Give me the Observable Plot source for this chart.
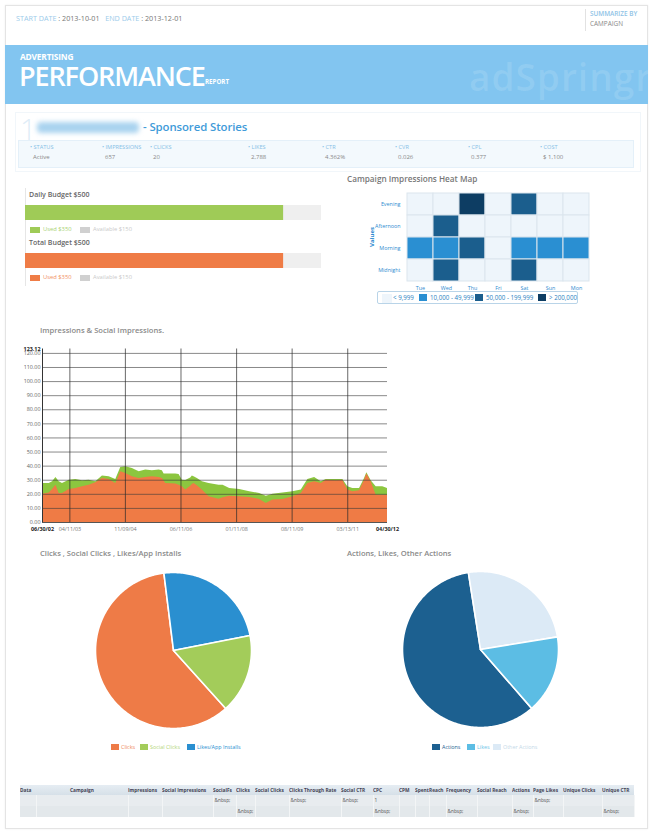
<!DOCTYPE html>
<html><head><meta charset="utf-8">
<script src="https://cdn.jsdelivr.net/npm/d3@7"></script>
<script src="https://cdn.jsdelivr.net/npm/@observablehq/plot@0.6"></script>
<style>
body{margin:0;background:#fff;font-family:"Open Sans",sans-serif;}
#page{position:relative;width:654px;height:831px;overflow:hidden;background:#fff;}
.a{position:absolute;white-space:nowrap;line-height:1;}
.lb{color:#9ccbea;}
svg{overflow:visible;}
table{border-collapse:collapse;table-layout:fixed;}
</style></head><body><div id="page"></div>
<script>
// ---------- data ----------
const startDate = "2013-10-01";
const endDate = "2013-12-01";
const summarizeBy = "CAMPAIGN";
const campaignType = "Sponsored Stories";
const statLabels = ["STATUS","IMPRESSIONS","CLICKS","LIKES","CTR","CVR","CPL","COST"];
const statValues = ["Active","657","20","2,788","4.362%","0.026","0.377","$ 1,100"];

const budgetTitles = ["Daily Budget $500","Total Budget $500"];
const budgetTotal = [500, 500];
const budgetUsedDrawn = [436, 436];       // bar length as drawn in the picture
const budgetUsedLabel = ["Used $350","Used $350"];
const budgetAvailLabel = ["Available $150","Available $150"];

const heatDays = ["Tue","Wed","Thu","Fri","Sat","Sun","Mon"];
const heatPeriods = ["Evening","Afternoon","Morning","Midnight"];
const heatValues = [
  [3000,   6000,   260000, 6000,  120000, 6000,  3000],
  [6000,   120000, 6000,   6000,  6000,   6000,  6000],
  [30000,  35000,  120000, 6000,  30000,  30000, 30000],
  [6000,   120000, 6000,   6000,  120000, 6000,  6000]
];
const heatThresholds = [10000, 50000, 200000];
const heatLegend = ["< 9,999","10,000 - 49,999","50,000 - 199,999","> 200,000"];

const areaDates = ["2002-06-30","2002-09-08","2002-10-13","2002-11-17","2002-12-21","2003-01-24","2003-04-04","2003-06-12","2003-08-20","2003-10-29",
 "2004-01-06","2004-03-15","2004-05-24","2004-08-01","2004-09-22","2004-11-13","2005-01-21","2005-04-01","2005-06-09","2005-08-17",
 "2005-10-26","2005-11-29","2005-12-17","2006-01-03","2006-04-17","2006-05-22","2006-06-25","2006-07-30","2006-09-20","2006-10-07",
 "2006-10-25","2006-11-28","2007-01-19","2007-03-30","2007-07-12","2007-08-23","2007-10-31","2008-02-12","2008-05-26","2008-09-07",
 "2008-11-15","2009-01-23","2009-05-07","2009-08-19","2009-11-14","2010-01-22","2010-04-02","2010-06-10","2010-08-01","2010-11-13",
 "2011-01-21","2011-03-14","2011-05-05","2011-07-14","2011-09-04","2011-09-28","2011-11-12","2012-01-03","2012-03-12","2012-04-30"];
const impressions = [27.7,27.7,28.9,32.0,28.9,27.7,30.0,30.6,29.6,30.0,
 28.9,33.0,32.5,30.6,39.0,39.6,38.4,36.0,37.2,36.7,
 37.2,36.7,34.4,34.4,34.4,34.1,30.0,29.8,31.5,33.0,
 32.5,31.3,28.9,27.7,26.5,26.5,24.2,23.5,21.8,20.6,
 18.7,20.1,21.0,21.8,23.0,30.6,32.0,28.9,30.6,30.6,
 30.6,25.4,24.2,24.2,31.3,35.3,29.6,25.4,25.4,24.2];
const socialImpressions = [20.1,21.0,23.5,26.5,20.6,20.6,23.5,24.2,25.4,26.5,
 28.2,31.3,30.6,27.7,36.0,34.8,32.5,31.3,32.0,32.5,
 32.0,31.3,29.5,27.7,27.3,26.5,25.4,23.0,25.8,27.0,
 27.7,26.0,23.0,18.2,16.5,17.5,18.7,18.2,17.8,16.4,
 13.5,15.9,16.4,18.2,20.6,27.7,28.9,27.7,30.0,29.6,
 30.0,23.0,21.8,22.5,30.0,34.4,28.9,19.4,19.4,19.4];
const xTickDates = ["2002-06-30","2003-04-11","2004-11-09","2006-06-11","2008-01-11","2009-08-11","2011-03-13","2012-04-30"];
const yTicks = [0,10,20,30,40,50,60,70,80,90,100,110,120];
const yMax = 123.12;

const pie1Labels = ["Clicks","Social Clicks","Likes/App Installs"];
const pie1Values = [59.7, 16.4, 23.9];
const pie2Labels = ["Actions","Likes","Other Actions"];
const pie2Values = [58.9, 16.2, 24.9];

const tableHeaders = ["Data","Campaign","Impressions","Social Impressions","SocialFs","Clicks","Social Clicks","Clicks Through Rate","Social CTR","CPC","CPM","Spent","Reach","Frequency","Social Reach","Actions","Page Likes","Unique Clicks","Unique CTR"];
const tableRow1 = ["","","","","&nbsp;","","","&nbsp;","&nbsp;","1","","","","","","","&nbsp;","",""];
const tableRow2 = ["","","","","","&nbsp;","","","","&nbsp;","","","","&nbsp;","","&nbsp;","","","&nbsp;"];

// ---------- styles / layout ----------
const C = {
  banner:"#82c5f0", green:"#9fcb57", orange:"#ef7c46", track:"#efefef",
  heat:["#eef5fb","#2a8fd2","#1b5e8d","#0d3d63"],
  areaGreen:"#8cc63f", areaOrange:"#ef7b45",
  pie1:["#ee7b47","#a3cc5a","#2a8fd0"], pie2:["#1c6090","#5cbde4","#dceaf6"]
};
const page = document.getElementById("page");
function el(html, style){ const d=document.createElement("div"); d.className="a"; d.innerHTML=html; Object.assign(d.style, style); page.appendChild(d); return d; }
function place(node, left, top){ const d=document.createElement("div"); d.className="a"; d.style.left=left+"px"; d.style.top=top+"px"; d.appendChild(node); page.appendChild(d); return d; }
const esc = s => s.replace(/&/g,"&amp;").replace(/</g,"&lt;").replace(/>/g,"&gt;");

// page frame
el("", {left:"5px",top:"5px",width:"641px",height:"822px",border:"1px solid #e4e4e4",boxShadow:"0 0 2px #eee"});

// header
el(`<span class="lb">START DATE</span> : ${startDate} &nbsp;&nbsp;<span class="lb">END DATE</span> : ${endDate}`, {left:"16px",top:"14.5px",fontSize:"7.2px",color:"#777"});
el("", {left:"585px",top:"9px",width:"1px",height:"22px",background:"#e2e2e2"});
el("SUMMARIZE BY", {left:"590px",top:"11px",fontSize:"6.4px",fontWeight:"600",color:"#8fc3e6"});
el(summarizeBy, {left:"590px",top:"21px",fontSize:"6.4px",color:"#888"});

const banner = el("", {left:"5px",top:"45px",width:"643px",height:"59px",background:C.banner,overflow:"hidden"});
banner.innerHTML = `<div class="a" style="left:464px;top:13px;font-size:37px;letter-spacing:1px;color:rgba(255,255,255,0.13);font-weight:600">adSpringr</div>`;
el("ADVERTISING", {left:"20px",top:"52.5px",fontSize:"8.4px",fontWeight:"700",color:"#fff",letterSpacing:"-0.2px"});
el("PERFORMANCE", {left:"19px",top:"65.2px",fontSize:"27px",lineHeight:"0.8",fontWeight:"600",color:"#fff",letterSpacing:"-1.1px"});
el("REPORT", {left:"205px",top:"79px",fontSize:"6.2px",fontWeight:"700",color:"#fff"});

// sponsored stories block
el("", {left:"15px",top:"112px",width:"624px",height:"58px",border:"1px solid #f1f6fa"});
el("1", {left:"20px",top:"117.6px",fontSize:"29px",lineHeight:"0.75",color:"#dfedf7",fontWeight:"300"});
el("", {left:"37px",top:"122px",width:"102px",height:"11px",background:"#a9d3ef",filter:"blur(2.5px)",borderRadius:"4px"});
el("- " + campaignType, {left:"143px",top:"121px",fontSize:"11.4px",fontWeight:"600",color:"#3f9bd9",letterSpacing:"-0.1px"});
el("", {left:"18px",top:"140px",width:"614px",height:"26px",background:"#f3f9fd",border:"1px solid #e4f0f9"});
const statX = [30,102,150,248,322,395,468,540];
statLabels.forEach((l,i)=>{
  el("• "+l, {left:statX[i]+"px",top:"145px",fontSize:"5.6px",color:"#86c0e6"});
  el(esc(statValues[i]), {left:(statX[i]+3)+"px",top:"154px",fontSize:"6px",color:"#888"});
});

// budget bars
el("", {left:"25px",top:"188px",width:"1px",height:"98px",background:"#e6e6e6"});
const budgetColors=[C.green,C.orange], budgetText=["#a8d273","#f19063"];
const budgetTop=[191,239];
budgetTitles.forEach((t,i)=>{
  const y=budgetTop[i];
  el(esc(t), {left:"29px",top:y+"px",fontSize:"7px",fontWeight:"600",color:"#666"});
  const p = Plot.plot({width:296,height:15,margin:0,x:{domain:[0,budgetTotal[i]],axis:null},
    marks:[Plot.barX([budgetTotal[i]],{x:d=>d,fill:C.track}), Plot.barX([budgetUsedDrawn[i]],{x:d=>d,fill:budgetColors[i]})]});
  place(p, 25, y+14);
  el("", {left:"30px",top:(y+36)+"px",width:"10px",height:"6px",background:budgetColors[i]});
  el(esc(budgetUsedLabel[i]), {left:"43px",top:(y+36)+"px",fontSize:"5.8px",color:budgetText[i]});
  el("", {left:"80px",top:(y+36)+"px",width:"10px",height:"6px",background:"#d0d0d0"});
  el(esc(budgetAvailLabel[i]), {left:"93px",top:(y+36)+"px",fontSize:"5.8px",color:"#cacaca"});
});

// heat map
el("Campaign Impressions Heat Map", {left:"347px",top:"175px",fontSize:"8.2px",fontWeight:"600",color:"#777"});
const heatData = heatPeriods.flatMap((p,r)=>heatDays.map((d,c)=>({day:d,period:p,value:heatValues[r][c]})));
const heat = Plot.plot({
  width:247,height:106,marginLeft:60,marginRight:2,marginTop:2,marginBottom:14,
  style:{fontSize:"5.4px",fontFamily:"Open Sans",color:"#2f8bd0",background:"transparent"},
  x:{domain:heatDays,padding:0,tickSize:0,tickPadding:4,label:null},
  y:{domain:heatPeriods,padding:0,tickSize:0,tickPadding:5,label:null},
  color:{type:"threshold",domain:heatThresholds,range:C.heat},
  marks:[Plot.cell(heatData,{x:"day",y:"period",fill:"value",stroke:"#dbe5ed",strokeWidth:1})]
});
place(heat, 345, 190);
el("Values", {left:"362px",top:"234px",fontSize:"6px",fontWeight:"700",color:"#2f8bd0",transform:"rotate(-90deg)"});
const hl = el("", {left:"377px",top:"291px",width:"199px",height:"11px",border:"1px solid #b9d4e8",borderRadius:"2px"});
const hlX=[4,41,97,160];
heatLegend.forEach((t,i)=>{
  hl.insertAdjacentHTML("beforeend", `<div class="a" style="left:${hlX[i]}px;top:2px;width:8px;height:7px;background:${C.heat[i]};border:${i==0?'1px solid #eef5fb':'none'}"></div><div class="a" style="left:${hlX[i]+11}px;top:2.5px;font-size:6.2px;color:#2b7fc1">${esc(t)}</div>`);
});

// area chart
el("Impressions &amp; Social Impressions.", {left:"40px",top:"327px",fontSize:"7.6px",fontWeight:"600",color:"#8a8a8a"});
const parse = s => new Date(s);
const areaData = areaDates.map((d,i)=>({date:parse(d),impressions:impressions[i],social:socialImpressions[i]}));
const ticks = xTickDates.map(parse);
const inner = ticks.slice(1,-1), ends=[ticks[0],ticks[ticks.length-1]];
const area = Plot.plot({
  width:402,height:196,marginLeft:42,marginRight:15,marginTop:8.5,marginBottom:14,
  style:{fontSize:"5.4px",fontFamily:"Open Sans",background:"transparent"},
  x:{type:"utc",domain:ends,label:null},
  y:{domain:[0,yMax],label:null},
  marks:[
    Plot.areaY(areaData,{x:"date",y1:0,y2:"impressions",fill:C.areaGreen}),
    Plot.areaY(areaData,{x:"date",y1:0,y2:"social",fill:C.areaOrange}),
    Plot.ruleY(yTicks.slice(1),{stroke:"#3a3a3a",strokeOpacity:0.6}),
    Plot.ruleX(inner,{y1:0,y2:yMax,stroke:"#2a2a2a",strokeOpacity:0.7}),
    Plot.ruleX([ticks[0]],{y1:0,y2:yMax,stroke:"#333"}),
    Plot.ruleY([0],{stroke:"#555"}),
    Plot.axisY({ticks:yTicks,tickFormat:d=>d.toFixed(2),tickSize:0,tickPadding:2,fill:"#666",label:null}),
    Plot.axisY({ticks:[yMax],tickFormat:d=>d.toFixed(2),tickSize:0,tickPadding:2,fill:"#222",fontWeight:"bold",label:null}),
    Plot.axisX({ticks:inner,tickFormat:"%m/%d/%y",tickSize:0,tickPadding:5,fill:"#777",label:null}),
    Plot.axisX({ticks:ends,tickFormat:"%m/%d/%y",tickSize:0,tickPadding:5,fill:"#222",fontWeight:"bold",label:null})
  ]
});
place(area, 0, 340);

// pies
function pieSlices(values, order, startDeg){
  const arcs = d3.pie().sort(null).value(i=>values[i])
    .startAngle(startDeg*Math.PI/180).endAngle((startDeg+360)*Math.PI/180)(order);
  return arcs.map(a=>{
    const pts=[[0,0]]; const n=Math.ceil((a.endAngle-a.startAngle)*180/Math.PI);
    for(let k=0;k<=n;k++){const t=a.startAngle+(a.endAngle-a.startAngle)*k/n; pts.push([Math.sin(t),Math.cos(t)]);}
    pts.push([0,0]);
    return {i:a.data, pts};
  });
}
function pie(values, colors, order, startDeg){
  const slices = pieSlices(values, order, startDeg);
  return Plot.plot({width:156,height:156,margin:0,x:{domain:[-1,1],axis:null},y:{domain:[-1,1],axis:null},
    style:{background:"transparent"},
    marks: slices.map(s=>Plot.line(s.pts,{x:d=>d[0],y:d=>d[1],fill:colors[s.i],stroke:"#fff",strokeWidth:1.6,strokeLinejoin:"round"}))});
}
el("Clicks , Social Clicks , Likes/App Installs", {left:"40px",top:"550px",fontSize:"7.6px",fontWeight:"600",color:"#8a8a8a"});
el("Actions, Likes, Other Actions", {left:"347px",top:"550px",fontSize:"7.6px",fontWeight:"600",color:"#8a8a8a"});
place(pie(pie1Values, C.pie1, [0,2,1], 138), 95, 572);
place(pie(pie2Values, C.pie2, [0,2,1], 139), 402, 571);
function pieLegend(labels, colors, textColors, x0, xs){
  labels.forEach((t,i)=>{
    el("", {left:(x0+xs[i])+"px",top:"744px",width:"8px",height:"6px",background:colors[i]});
    el(esc(t), {left:(x0+xs[i]+10)+"px",top:"744.5px",fontSize:"5.4px",color:textColors[i]});
  });
}
pieLegend(pie1Labels, C.pie1, ["#ef8a5c","#b4d67a","#2a8fd0"], 111, [0,29,76]);
pieLegend(pie2Labels, C.pie2, ["#1c6090","#6ec5e8","#c4d8e8"], 432, [0,35,61]);

// table
const colW=[16,92,34,51,23,19,34,52,32,26,16,14,17,31,35,21,30,39,32];
let th = `<table style="position:absolute;left:20px;top:785px;width:614px;font-size:4.8px;line-height:1"><colgroup>${colW.map(w=>`<col style="width:${w}px">`).join("")}</colgroup>`;
th += `<tr style="height:10px;background:linear-gradient(#e6edf3,#d6e0e8)">${tableHeaders.map(h=>`<th style="padding:0;font-weight:700;color:#445;text-align:${h=="Campaign"?"center":"left"};white-space:nowrap;overflow:hidden">${esc(h)}</th>`).join("")}</tr>`;
[tableRow1,tableRow2].forEach((r,ri)=>{
  th += `<tr style="height:11px;background:${ri?"#e3e8eb":"#e8ecef"}">${r.map(c=>`<td style="padding:0 0 0 1px;color:#555;border-right:1px solid #f3f5f6;white-space:nowrap;overflow:hidden">${esc(c)}</td>`).join("")}</tr>`;
});
th += `</table>`;
page.insertAdjacentHTML("beforeend", th);
</script></body></html>
